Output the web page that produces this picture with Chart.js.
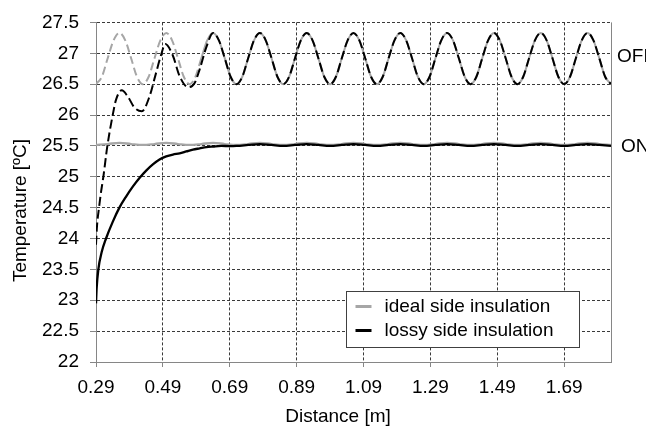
<!DOCTYPE html>
<html><head><meta charset="utf-8">
<script src="https://cdn.jsdelivr.net/npm/chart.js@4"></script>
<style>html,body{margin:0;padding:0;background:#fff}#wrap{width:646px;height:428px}</style>
</head><body><div id="wrap"><canvas id="c" width="646" height="428"></canvas></div>
<script>
const xTickValues = [0.29, 0.49, 0.69, 0.89, 1.09, 1.29, 1.49, 1.69];
const xTickLabels = ['0.29', '0.49', '0.69', '0.89', '1.09', '1.29', '1.49', '1.69'];
const yTickValues = [22, 22.5, 23, 23.5, 24, 24.5, 25, 25.5, 26, 26.5, 27, 27.5];
const yTickLabels = ['22', '22.5', '23', '23.5', '24', '24.5', '25', '25.5', '26', '26.5', '27', '27.5'];
const seriesNames = ['ideal side insulation', 'lossy side insulation'];
const sideLabels = ['OFF', 'ON'];
const sideLabelValues = [26.95, 25.48];
const xTitle = 'Distance [m]';
const yTitle = 'Temperature [ºC]';

const distOffIdeal = [0.29,0.3075,0.325,0.3425,0.36,0.3775,0.395,0.4125,0.43,0.4475,0.465,0.4825,0.5,0.5175,0.535,0.5525,
  0.57,0.5875,0.605,0.6225,0.64,0.6575,0.675,0.6925,0.71,0.7275,0.745,0.7625,0.78,0.7975,0.815,0.8325,
  0.85,0.8675,0.885,0.9025,0.92,0.9375,0.955,0.9725,0.99,1.0075,1.025,1.0425,1.06,1.0775,1.095,1.1125,
  1.13,1.1475,1.165,1.1825,1.2,1.2175,1.235,1.2525,1.27,1.2875,1.305,1.3225,1.34,1.3575,1.375,1.3925,
  1.41,1.4275,1.445,1.4625,1.48,1.4975,1.515,1.5325,1.55,1.5675,1.585,1.6025,1.62,1.6375,1.655,1.6725,
  1.69,1.7075,1.725,1.7425,1.76,1.7775,1.795,1.8125,1.83];
const tempOffIdeal = [26.5,26.62,26.92,27.21,27.33,27.21,26.92,26.62,
  26.5,26.62,26.92,27.21,27.33,27.21,26.92,26.62,
  26.5,26.62,26.92,27.21,27.33,27.21,26.92,26.62,
  26.5,26.62,26.92,27.21,27.33,27.21,26.92,26.62,
  26.5,26.62,26.92,27.21,27.33,27.21,26.92,26.62,
  26.5,26.62,26.92,27.21,27.33,27.21,26.92,26.62,
  26.5,26.62,26.92,27.21,27.33,27.21,26.92,26.62,
  26.5,26.62,26.92,27.21,27.33,27.21,26.92,26.62,
  26.5,26.62,26.92,27.21,27.33,27.21,26.92,26.62,
  26.5,26.62,26.92,27.21,27.33,27.21,26.92,26.62,
  26.5,26.62,26.92,27.21,27.33,27.21,26.92,26.62,
  26.5];

const distOffLossy = [0.29,0.293,0.299,0.305,0.312,0.324,0.34,0.35,0.367,0.385,0.405,0.427,0.45,0.467,0.485,0.497,
  0.52,0.54,0.566,0.585,0.6,0.62,
  0.64,0.6575,0.675,0.6925,0.71,0.7275,0.745,0.7625,0.78,0.7975,0.815,0.8325,
  0.85,0.8675,0.885,0.9025,0.92,0.9375,0.955,0.9725,0.99,1.0075,1.025,1.0425,1.06,1.0775,1.095,1.1125,
  1.13,1.1475,1.165,1.1825,1.2,1.2175,1.235,1.2525,1.27,1.2875,1.305,1.3225,1.34,1.3575,1.375,1.3925,
  1.41,1.4275,1.445,1.4625,1.48,1.4975,1.515,1.5325,1.55,1.5675,1.585,1.6025,1.62,1.6375,1.655,1.6725,
  1.69,1.7075,1.725,1.7425,1.76,1.7775,1.795,1.8125,1.83];
const tempOffLossy = [23.9,24.2,24.5,24.75,25,25.5,26,26.25,26.4,26.3,26.12,26.06,26.3,26.63,26.98,27.15,
  26.96,26.63,26.45,26.52,26.74,27.1,
  27.33,27.21,26.92,26.62,
  26.5,26.62,26.92,27.21,27.33,27.21,26.92,26.62,
  26.5,26.62,26.92,27.21,27.33,27.21,26.92,26.62,
  26.5,26.62,26.92,27.21,27.33,27.21,26.92,26.62,
  26.5,26.62,26.92,27.21,27.33,27.21,26.92,26.62,
  26.5,26.62,26.92,27.21,27.33,27.21,26.92,26.62,
  26.5,26.62,26.92,27.21,27.33,27.21,26.92,26.62,
  26.5,26.62,26.92,27.21,27.33,27.21,26.92,26.62,
  26.5,26.62,26.92,27.21,27.33,27.21,26.92,26.62,
  26.5];

const distOnIdeal = [0.29,0.325,0.36,0.395,0.43,0.465,0.5,0.535,0.57,0.605,0.64,0.675,0.71,0.745,0.78,0.815,
  0.85,0.885,0.92,0.955,0.99,1.025,1.06,1.095,1.13,1.165,1.2,1.235,1.27,1.305,1.34,1.375,
  1.41,1.445,1.48,1.515,1.55,1.585,1.62,1.655,1.69,1.725,1.76,1.795,1.83];
const tempOnIdeal = [25.515,25.53,25.55,25.53, 25.515,25.53,25.55,25.53, 25.515,25.53,25.55,25.53,
  25.515,25.53,25.55,25.53, 25.515,25.53,25.55,25.53, 25.515,25.53,25.55,25.53,
  25.515,25.53,25.55,25.53, 25.515,25.53,25.55,25.53, 25.515,25.53,25.55,25.53,
  25.515,25.53,25.55,25.53, 25.515,25.53,25.55,25.53, 25.515];

const distOnLossy = [0.29,0.292,0.297,0.307,0.32,0.34,0.36,0.38,0.4,0.42,0.44,0.46,0.48,0.5,0.52,0.54,0.56,0.58,0.6,0.62,0.64,0.665,0.69,
  0.71,0.745,0.78,0.815,0.85,0.885,0.92,0.955,0.99,1.025,1.06,1.095,1.13,1.165,1.2,1.235,1.27,1.305,
  1.34,1.375,1.41,1.445,1.48,1.515,1.55,1.585,1.62,1.655,1.69,1.725,1.76,1.795,1.83];
const tempOnLossy = [22.95,23.2,23.5,23.78,24,24.27,24.5,24.68,24.84,24.98,25.1,25.2,25.28,25.33,25.36,25.38,25.41,25.44,25.46,25.48,25.49,25.5,25.497,
  25.5,25.515,25.53,25.515, 25.5,25.515,25.53,25.515, 25.5,25.515,25.53,25.515, 25.5,25.515,25.53,25.515,
  25.5,25.515,25.53,25.515, 25.5,25.515,25.53,25.515, 25.5,25.515,25.53,25.515, 25.5,25.515,25.53,25.515,
  25.5];

const GRAY = '#a6a6a6';
const BLACK = '#000000';
const AXIS = '#868686';
const FONT = '"Liberation Sans", Arial, sans-serif';

const pts = (xs, ys) => xs.map((x, i) => ({x: x, y: ys[i]}));

const decor = {
  id: 'decor',
  afterDatasetsDraw(chart) {
    const {ctx, chartArea: a, scales: {y}} = chart;
    const w = a.right - a.left, h = a.bottom - a.top;
    ctx.save();
    const rx = Math.round(a.right) + 0.5;
    ctx.strokeStyle = AXIS; ctx.lineWidth = 1;
    ctx.beginPath(); ctx.moveTo(rx, a.top); ctx.lineTo(rx, a.bottom); ctx.stroke();

    ctx.font = '19px ' + FONT;
    ctx.fillStyle = '#000'; ctx.textBaseline = 'middle'; ctx.textAlign = 'left';
    const offs = [6, 10];
    sideLabels.forEach((t, i) => ctx.fillText(t, a.right + offs[i], y.getPixelForValue(sideLabelValues[i])));

    // axis titles
    ctx.textAlign = 'center';
    ctx.fillText(xTitle, a.left + 0.47 * w, chart.height - 11);
    ctx.save();
    ctx.translate(21, a.top + 0.554 * h);
    ctx.rotate(-Math.PI / 2);
    ctx.fillText(yTitle, 0, 0);
    ctx.restore();

    // legend
    ctx.textAlign = 'left';
    const bx = Math.round(a.left + 0.485 * w) + 0.5, by = Math.round(a.top + 0.795 * h) - 0.5;
    const bw = 233, bh = 56;
    ctx.fillStyle = '#fff'; ctx.fillRect(bx, by, bw, bh);
    ctx.strokeStyle = '#404040'; ctx.lineWidth = 1; ctx.strokeRect(bx, by, bw, bh);
    const cols = [GRAY, BLACK];
    seriesNames.forEach((t, i) => {
      const cy = by + 15 + i * 24;
      ctx.strokeStyle = cols[i]; ctx.lineWidth = 3;
      ctx.beginPath(); ctx.moveTo(bx + 9, cy); ctx.lineTo(bx + 25, cy); ctx.stroke();
      ctx.fillStyle = '#000';
      ctx.fillText(t, bx + 38, cy);
    });
    ctx.restore();
  }
};

new Chart(document.getElementById('c'), {
  type: 'line',
  data: {
    datasets: [
      {label: seriesNames[1] + ' OFF', data: pts(distOffLossy, tempOffLossy), borderColor: BLACK, borderWidth: 2, borderDash: [9, 4], order: 0},
      {label: seriesNames[1] + ' ON', data: pts(distOnLossy, tempOnLossy), borderColor: BLACK, borderWidth: 2.3, order: 1},
      {label: seriesNames[0] + ' OFF', data: pts(distOffIdeal, tempOffIdeal), borderColor: GRAY, borderWidth: 2, borderDash: [8, 4], order: 2,
        segment: {borderDash: c => (c.p0.parsed.x >= 0.6 ? [] : undefined)}},
      {label: seriesNames[0] + ' ON', data: pts(distOnIdeal, tempOnIdeal), borderColor: GRAY, borderWidth: 2.3, order: 3}
    ]
  },
  options: {
    responsive: false,
    animation: false,
    devicePixelRatio: 1,
    layout: {padding: {left: 0, top: 20, right: 35, bottom: 0}},
    elements: {point: {radius: 0}, line: {cubicInterpolationMode: 'monotone', fill: false}},
    plugins: {legend: {display: false}, tooltip: {enabled: false}},
    scales: {
      x: {
        type: 'linear', min: 0.29, max: 1.83,
        afterBuildTicks: s => { s.ticks = xTickValues.map(v => ({value: v})); },
        afterFit: s => { s.height = 66; },
        ticks: {autoSkip: false, maxRotation: 0, padding: 9, color: '#000', font: {family: FONT, size: 19},
          callback: (v, i) => xTickLabels[i]},
        grid: {color: '#3a3a3a', lineWidth: 1, tickLength: 5, tickColor: AXIS, drawTicks: true},
        border: {display: true, color: AXIS, width: 1, dash: [3, 2]},
        title: {display: false}
      },
      y: {
        type: 'linear', min: 22, max: 27.5,
        afterBuildTicks: s => { s.ticks = yTickValues.map(v => ({value: v})); },
        afterFit: s => { s.width = 96; },
        ticks: {autoSkip: false, padding: 11, color: '#000', font: {family: FONT, size: 19},
          callback: (v, i) => yTickLabels[i]},
        grid: {color: '#3a3a3a', lineWidth: 1, tickLength: 6, tickColor: AXIS, drawTicks: true},
        border: {display: true, color: AXIS, width: 1, dash: [3, 2]},
        title: {display: false}
      }
    }
  },
  plugins: [decor]
});
</script>
</body></html>
